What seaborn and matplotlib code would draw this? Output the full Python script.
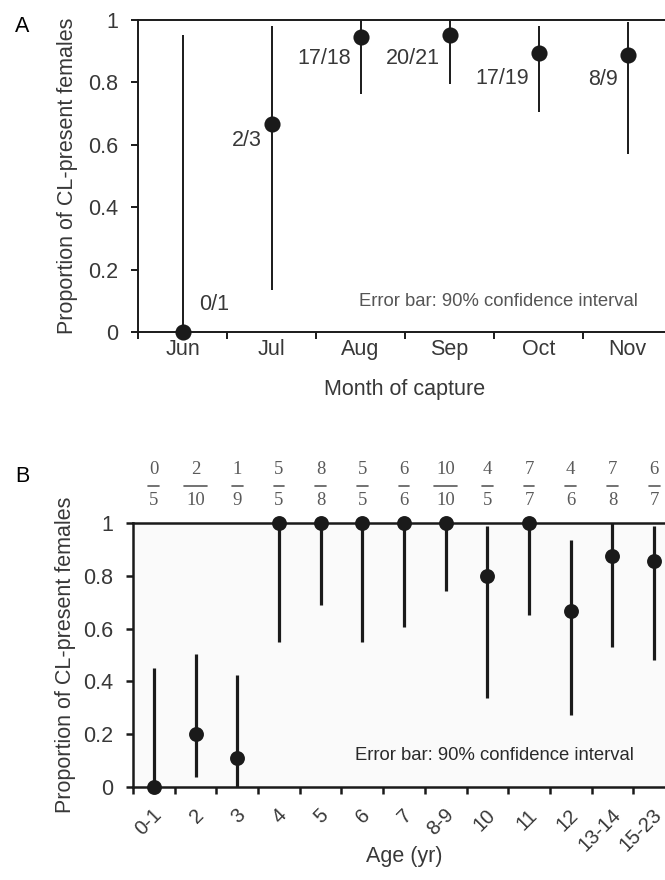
import numpy as np
import pandas as pd
import matplotlib
matplotlib.use("Agg")
import matplotlib.pyplot as plt
import matplotlib.transforms as mtransforms
import seaborn as sns

# --- Panel A: month of capture ---
months = ["Jun", "Jul", "Aug", "Sep", "Oct", "Nov"]
month_present = [0, 2, 17, 20, 17, 8]
month_total = [1, 3, 18, 21, 19, 9]
month_lo = [0.0, 0.135, 0.763, 0.795, 0.706, 0.571]
month_hi = [0.952, 0.982, 1.0, 1.0, 0.982, 0.995]
# where the n/N labels sit (y, in data units)
month_label_y = [0.087, 0.615, 0.877, 0.878, 0.813, 0.808]

# --- Panel B: age ---
ages = ["0-1", "2", "3", "4", "5", "6", "7", "8-9", "10", "11", "12", "13-14", "15-23"]
age_present = [0, 2, 1, 5, 8, 5, 6, 10, 4, 7, 4, 7, 6]
age_total = [5, 10, 9, 5, 8, 5, 6, 10, 5, 7, 6, 8, 7]
age_lo = [0.0, 0.036, 0.0, 0.549, 0.688, 0.549, 0.607, 0.741, 0.339, 0.652, 0.271, 0.529, 0.481]
age_hi = [0.45, 0.504, 0.425, 1.0, 1.0, 1.0, 1.0, 1.0, 0.990, 1.0, 0.937, 1.0, 0.990]

sns.set_theme(style="ticks")
plt.rcParams['font.family'] = ['Liberation Sans', 'DejaVu Sans']

INK = "#1a1a1a"
TXT = "#383838"
W, H = 665, 880


def make_frame(cats, present, total, lo, hi):
    df = pd.DataFrame({"cat": cats, "present": present, "total": total, "lo": lo, "hi": hi})
    df["pos"] = np.arange(len(df))
    df["prop"] = df["present"] / df["total"]
    return df


def draw_panel(ax, df, dot_size, lw, spine_lw):
    n = len(df)
    ax.vlines(df["pos"], df["lo"], df["hi"], color=INK, lw=lw, zorder=3, clip_on=False)
    sns.scatterplot(data=df, x="pos", y="prop", s=dot_size, color=INK, linewidth=0,
                    ax=ax, zorder=4, clip_on=False, legend=False)
    ax.set_xlim(-0.5, n - 0.5)
    ax.set_ylim(0, 1)
    ax.set_xticks(df["pos"])
    ax.set_xticklabels(df["cat"])
    ax.set_xticks(np.arange(n + 1) - 0.5, minor=True)
    yt = np.arange(0, 1.01, 0.2)
    ax.set_yticks(yt)
    ax.set_yticklabels(["0", "0.2", "0.4", "0.6", "0.8", "1"])
    ax.tick_params(axis="x", which="major", length=0, colors=TXT)
    ax.tick_params(axis="x", which="minor", length=5, width=spine_lw, color=INK, direction="out")
    ax.tick_params(axis="y", which="major", length=5, width=spine_lw, color=INK, colors=TXT,
                   labelsize=15.5, pad=9)
    for sp in ["left", "bottom", "top"]:
        ax.spines[sp].set_linewidth(spine_lw)
        ax.spines[sp].set_color(INK)
    ax.spines["right"].set_visible(False)
    for t in ax.get_yticklabels():
        t.set_color(TXT)
    ax.set_ylabel("Proportion of CL-present females", fontsize=15.5, color=TXT)


fig = plt.figure(figsize=(W / 100, H / 100), dpi=100)

# ---------------- A ----------------
axA = fig.add_axes([138 / W, 1 - 332 / H, 534 / W, 312 / H])
dfA = make_frame(months, month_present, month_total, month_lo, month_hi)
draw_panel(axA, dfA, dot_size=135, lw=1.4, spine_lw=1.4)
axA.tick_params(axis="x", which="major", labelsize=15.5, pad=5)
axA.set_xlabel("Month of capture", fontsize=15.5, color=TXT)
axA.xaxis.set_label_coords(0.5, -0.152)
axA.yaxis.set_label_coords(-0.112, 0.5)

for i, row in dfA.iterrows():
    lab = f"{row['present']}/{row['total']}"
    if i == 0:
        axA.annotate(lab, (row["pos"], month_label_y[i]), xytext=(12, 0), textcoords="offset points",
                     ha="left", va="center", fontsize=15.5, color=TXT)
    else:
        axA.annotate(lab, (row["pos"], month_label_y[i]), xytext=(-7, 0), textcoords="offset points",
                     ha="right", va="center", fontsize=15.5, color=TXT)

axA.text(0.414, 0.099, "Error bar: 90% confidence interval", transform=axA.transAxes,
         ha="left", va="center", fontsize=13.3, color="#555555")

# ---------------- B ----------------
axB = fig.add_axes([133 / W, 1 - 787 / H, 542 / W, 264 / H])
axB.set_facecolor("#fafafa")
dfB = make_frame(ages, age_present, age_total, age_lo, age_hi)
draw_panel(axB, dfB, dot_size=115, lw=2.3, spine_lw=1.8)
axB.tick_params(axis="x", which="major", labelsize=14.5, pad=18)
shift = mtransforms.ScaledTranslation(5 / 100, 0, fig.dpi_scale_trans)
for t in axB.get_xticklabels():
    t.set_rotation(45)
    t.set_ha("right")
    t.set_va("center")
    t.set_rotation_mode("anchor")
    t.set_transform(t.get_transform() + shift)
axB.set_xlabel("Age (yr)", fontsize=15.5, color=TXT)
axB.xaxis.set_label_coords(0.5, -0.225)
axB.yaxis.set_label_coords(-0.105, 0.5)

trans = mtransforms.blended_transform_factory(axB.transData, axB.transAxes)
for i, row in dfB.iterrows():
    axB.text(row["pos"], 1.203, str(row["present"]), transform=trans, ha="center", va="center",
             fontsize=13.5, color="#5a5a5a", family="Liberation Serif")
    axB.text(row["pos"], 1.085, str(row["total"]), transform=trans, ha="center", va="center",
             fontsize=13.5, color="#5a5a5a", family="Liberation Serif")
    nd = max(len(str(row["present"])), len(str(row["total"])))
    hw = 0.13 + 0.15 * (nd - 1)
    axB.plot([row["pos"] - hw, row["pos"] + hw], [1.141, 1.141], transform=trans,
             color="#5a5a5a", lw=1.2, clip_on=False)

axB.text(0.41, 0.121, "Error bar: 90% confidence interval", transform=axB.transAxes,
         ha="left", va="center", fontsize=13.3, color="#2a2a2a")

fig.text(22 / W, 1 - 26 / H, "A", fontsize=15.5, color="black", ha="center", va="center")
fig.text(22 / W, 1 - 476 / H, "B", fontsize=15.5, color="black", ha="center", va="center")

fig.savefig("out.png", dpi=100)
